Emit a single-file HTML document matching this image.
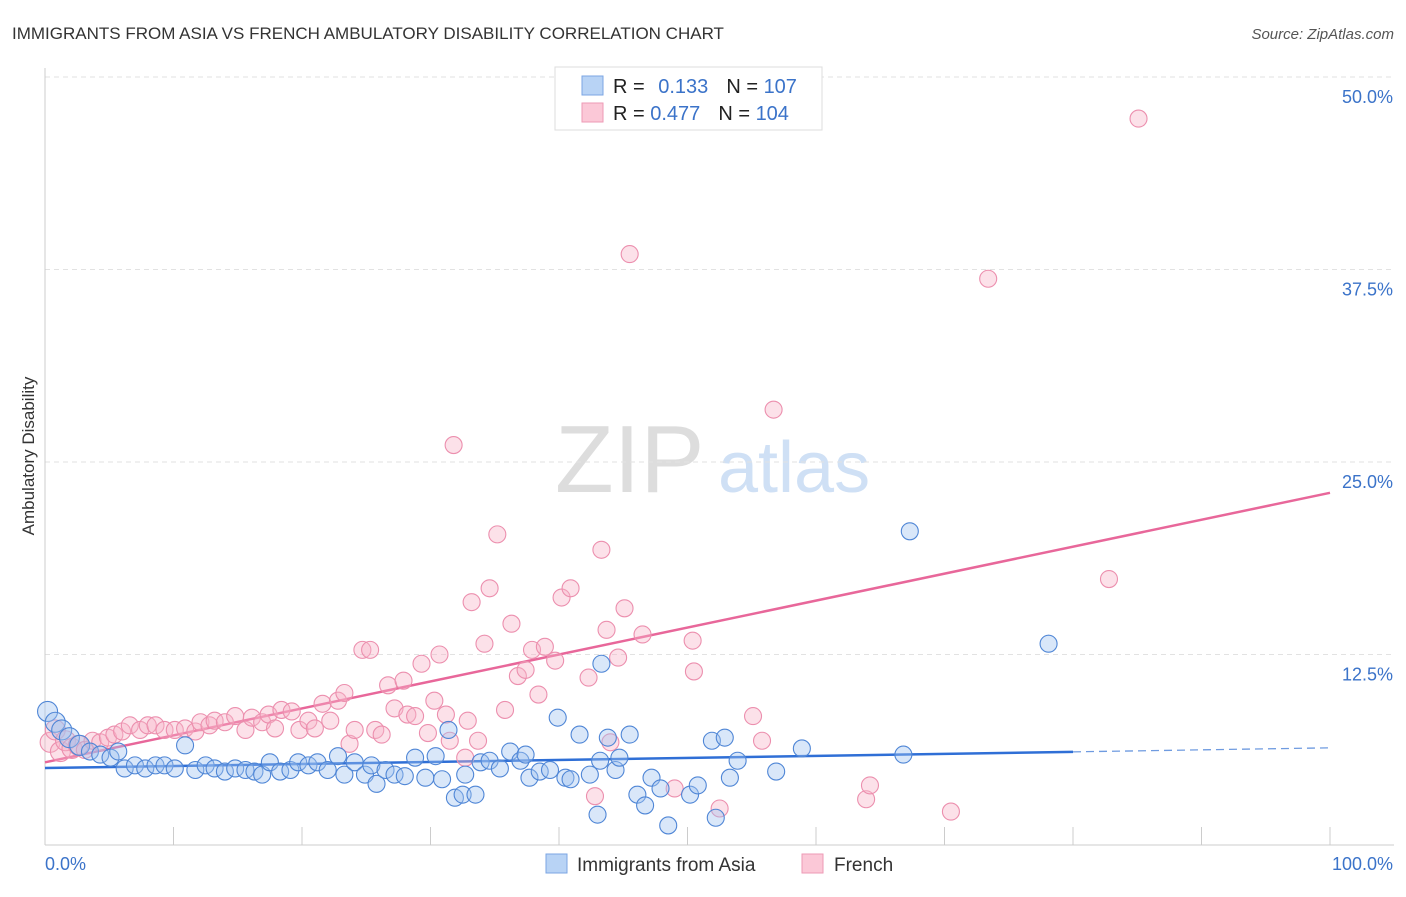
<!DOCTYPE html>
<html><head><meta charset="utf-8"><style>
body{margin:0;background:#fff;font-family:"Liberation Sans",sans-serif;}
svg text{font-family:"Liberation Sans",sans-serif;}
</style></head><body>
<svg id="chart" width="1406" height="892">
<text x="12" y="39" font-size="17" fill="#333">IMMIGRANTS FROM ASIA VS FRENCH AMBULATORY DISABILITY CORRELATION CHART</text>
<text x="1394" y="39" font-size="15" fill="#555" text-anchor="end" font-style="italic">Source: ZipAtlas.com</text>
<text x="34" y="456" font-size="17" fill="#333" text-anchor="middle" transform="rotate(-90 34 456)">Ambulatory Disability</text>
<g>
<text x="555" y="492" font-size="96" fill="#ddd" font-family="Liberation Serif">ZIP</text>
<text x="718" y="492" font-size="72" fill="#cfe0f5">atlas</text>
</g>
<g id="grid"></g>
<g id="trend"></g>
<g id="pts"></g>
<g>
<rect x="555" y="67" width="267" height="63" fill="#fff" stroke="#ddd"/>
<rect x="582" y="76" width="21" height="19" fill="#b8d3f5" stroke="#7ba6e3"/>
<rect x="582" y="103" width="21" height="19" fill="#fbc8d7" stroke="#ee9ab5"/>
<text x="613" y="93" font-size="20" fill="#222">R = <tspan fill="#3b73c9" dx="8">0.133</tspan><tspan dx="18">N = </tspan><tspan fill="#3b73c9">107</tspan></text>
<text x="613" y="120" font-size="20" fill="#222">R = <tspan fill="#3b73c9">0.477</tspan><tspan dx="18">N = </tspan><tspan fill="#3b73c9">104</tspan></text>
</g>
<g>
<rect x="546" y="854" width="21" height="19" fill="#b8d3f5" stroke="#7ba6e3"/>
<text x="577" y="871" font-size="19" fill="#333">Immigrants from Asia</text>
<rect x="802" y="854" width="21" height="19" fill="#fbc8d7" stroke="#ee9ab5"/>
<text x="834" y="871" font-size="19" fill="#333">French</text>
</g>
</svg>
<script>
const yTicks=[12.5,25,37.5,50];
const yTickLabels=["12.5%","25.0%","37.5%","50.0%"];
const xTicks=[0,10,20,30,40,50,60,70,80,90,100];
const blueX=[0.2,0.8,1.3,1.9,2.7,3.5,4.3,5.1,5.7,6.2,7.0,7.8,8.6,9.3,10.1,10.9,11.7,12.5,13.2,14.0,14.8,15.6,16.3,16.9,17.5,18.3,19.1,19.7,20.5,21.2,22.0,22.8,23.3,24.1,24.9,25.4,25.8,26.5,27.2,28.0,28.8,29.6,30.4,30.9,31.4,31.9,32.5,32.7,33.5,33.9,34.6,35.4,36.2,37.0,37.4,37.7,38.5,39.3,39.9,40.5,40.9,41.6,42.4,43.0,43.2,43.8,44.4,44.7,45.5,46.1,46.7,47.2,47.9,48.5,50.2,50.8,51.9,52.2,52.9,53.3,53.9,56.9,58.9,43.3,66.8,67.3,78.1];
const blueY=[8.8,8.1,7.6,7.1,6.6,6.2,6.0,5.8,6.2,5.1,5.3,5.1,5.3,5.3,5.1,6.6,5.0,5.3,5.1,4.9,5.1,5.0,4.9,4.7,5.5,4.9,5.0,5.5,5.3,5.5,5.0,5.9,4.7,5.5,4.7,5.3,4.1,5.0,4.7,4.6,5.8,4.5,5.9,4.4,7.6,3.2,3.4,4.7,3.4,5.5,5.6,5.1,6.2,5.6,6.0,4.5,4.9,5.0,8.4,4.5,4.4,7.3,4.7,2.1,5.6,7.1,5.0,5.8,7.3,3.4,2.7,4.5,3.8,1.4,3.4,4.0,6.9,1.9,7.1,4.5,5.6,4.9,6.4,11.9,6.0,20.5,13.2];
const pinkX=[0.4,0.8,1.2,1.6,2.1,2.6,3.1,3.7,4.3,4.9,5.4,6.0,6.6,7.4,8.0,8.6,9.3,10.1,10.9,11.7,12.1,12.8,13.2,14.0,14.8,15.6,16.1,16.9,17.4,17.9,18.4,19.2,19.8,20.5,21.0,21.6,22.2,22.8,23.3,23.7,24.1,24.7,25.3,25.7,26.2,26.7,27.2,27.9,28.2,28.8,29.3,29.8,30.3,30.7,31.2,31.5,31.8,32.7,32.9,33.2,33.7,34.2,34.6,35.2,35.8,36.3,36.8,37.4,37.9,38.4,38.9,39.7,40.2,40.9,42.3,42.8,43.3,43.7,44.0,44.6,45.1,46.5,49.0,50.4,50.5,52.5,55.1,55.8,56.7,63.9,64.2,73.4,70.5,82.8,85.1,45.5];
const pinkY=[6.8,7.6,6.2,6.9,6.4,6.6,6.3,6.9,6.8,7.1,7.3,7.5,7.9,7.6,7.9,7.9,7.6,7.6,7.7,7.5,8.1,7.9,8.2,8.1,8.5,7.6,8.4,8.1,8.6,7.7,8.9,8.8,7.6,8.2,7.7,9.3,8.2,9.5,10.0,6.7,7.6,12.8,12.8,7.6,7.3,10.5,9.0,10.8,8.6,8.5,11.9,7.4,9.5,12.5,8.6,6.9,26.1,5.8,8.2,15.9,6.9,13.2,16.8,20.3,8.9,14.5,11.1,11.5,12.8,9.9,13.0,12.1,16.2,16.8,11.0,3.3,19.3,14.1,6.8,12.3,15.5,13.8,3.8,13.4,11.4,2.5,8.5,6.9,28.4,3.1,4.0,36.9,2.3,17.4,47.3,38.5];
const blueTrend=[5.13,0.0131];
const pinkTrend=[5.5,0.175];

const X0=45,X1=1330,Y0=847,PY=15.4;
const sx=v=>X0+(X1-X0)*v/100;
const sy=v=>Y0-v*PY;
const NS="http://www.w3.org/2000/svg";
function mk(tag,attrs,parent){const e=document.createElementNS(NS,tag);for(const k in attrs)e.setAttribute(k,attrs[k]);parent.appendChild(e);return e;}
const grid=document.getElementById('grid');
yTicks.forEach((t,i)=>{
  const l=mk('line',{x1:X0,x2:1394,y1:sy(t),y2:sy(t),stroke:'#e2e2e2','stroke-dasharray':'5,4'},grid);
  
  
  const tx=mk('text',{x:1393,y:sy(t)+26,'font-size':18,fill:'#3b73c9','text-anchor':'end'},grid);
  tx.textContent=yTickLabels[i];
  
  
});
const ax=mk('line',{x1:X0,x2:X0,y1:68,y2:845,stroke:'#ccc'},grid);


const bx=mk('line',{x1:X0,x2:1394,y1:845,y2:845,stroke:'#ccc'},grid);


xTicks.forEach(t=>{
  const l=mk('line',{x1:sx(t),x2:sx(t),y1:827,y2:845,stroke:'#ccc'},grid);
  
  
});
const xl0=mk('text',{x:45,y:870,'font-size':18,fill:'#3b73c9'},grid);xl0.textContent='0.0%';


const xl1=mk('text',{x:1393,y:870,'font-size':18,fill:'#3b73c9','text-anchor':'end'},grid);xl1.textContent='100.0%';



const pts=document.getElementById('pts');
function dots(xs,ys,fill,stroke,name){
  xs.forEach((x,i)=>{
    const r=(x<3)?10:8.5;
    const c=mk('circle',{cx:sx(x),cy:sy(ys[i]),r:r,fill:fill,'fill-opacity':0.4,stroke:stroke,'stroke-width':1.1},pts);
    
    
  });
}
dots(pinkX,pinkY,'#f7b3c8','#ec8fae','french-point');
dots(blueX,blueY,'#9fc2ef','#4f86d6','asia-point');

const tr=document.getElementById('trend');
const t1=mk('line',{x1:sx(0),y1:sy(blueTrend[0]),x2:sx(80),y2:sy(blueTrend[0]+blueTrend[1]*80),stroke:'#2f6fd6','stroke-width':2.5},tr);


const t2=mk('line',{x1:sx(80),y1:sy(blueTrend[0]+blueTrend[1]*80),x2:sx(100),y2:sy(blueTrend[0]+blueTrend[1]*100),stroke:'#6f9be0','stroke-width':1.3,'stroke-dasharray':'8,5'},tr);


const t3=mk('line',{x1:sx(0),y1:sy(pinkTrend[0]),x2:sx(100),y2:sy(pinkTrend[0]+pinkTrend[1]*100),stroke:'#e8679a','stroke-width':2.5},tr);


</script>
</body></html>
